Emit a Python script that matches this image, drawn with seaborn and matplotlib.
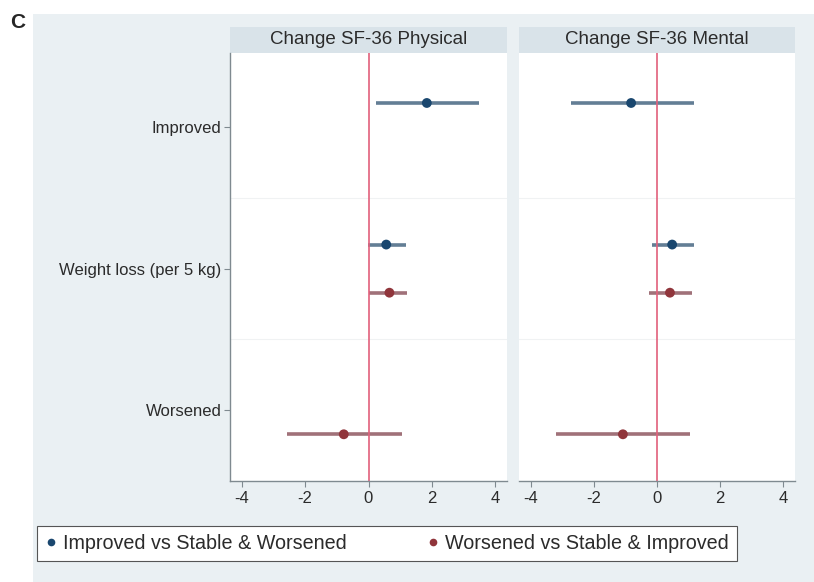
import numpy as np
import pandas as pd
import matplotlib
matplotlib.use("Agg")
import matplotlib.pyplot as plt
from matplotlib.patches import Rectangle
from matplotlib.lines import Line2D
import seaborn as sns

PANELS = ["Change SF-36 Physical", "Change SF-36 Mental"]
CATEGORIES = ["Improved", "Weight loss (per 5 kg)", "Worsened"]
SERIES = ["Improved vs Stable & Worsened", "Worsened vs Stable & Improved"]
X_TICKS = [-4, -2, 0, 2, 4]

# rows of each series (blue: Improved + weight loss, red: weight loss + Worsened)
blue_cats = ["Improved", "Weight loss (per 5 kg)"]
red_cats = ["Weight loss (per 5 kg)", "Worsened"]

phys_blue_est = [1.84, 0.56]
phys_blue_lo = [0.24, -0.02]
phys_blue_hi = [3.48, 1.18]
phys_red_est = [0.66, -0.78]
phys_red_lo = [0.00, -2.56]
phys_red_hi = [1.22, 1.07]

ment_blue_est = [-0.82, 0.48]
ment_blue_lo = [-2.73, -0.15]
ment_blue_hi = [1.16, 1.18]
ment_red_est = [0.41, -1.08]
ment_red_lo = [-0.25, -3.20]
ment_red_hi = [1.12, 1.05]

COLORS = {SERIES[0]: "#1a476f", SERIES[1]: "#90353b"}
CI_COLORS = {SERIES[0]: "#52708a", SERIES[1]: "#96626a"}
OFFSET = {SERIES[0]: -0.17, SERIES[1]: 0.17}

W, H = 814, 582


def build_frame():
    rows = []
    blocks = [
        (PANELS[0], SERIES[0], blue_cats, phys_blue_est, phys_blue_lo, phys_blue_hi),
        (PANELS[0], SERIES[1], red_cats, phys_red_est, phys_red_lo, phys_red_hi),
        (PANELS[1], SERIES[0], blue_cats, ment_blue_est, ment_blue_lo, ment_blue_hi),
        (PANELS[1], SERIES[1], red_cats, ment_red_est, ment_red_lo, ment_red_hi),
    ]
    for panel, series, cats, est, lo, hi in blocks:
        for c, e, l, h in zip(cats, est, lo, hi):
            rows.append({"panel": panel, "series": series, "cat": c,
                         "est": e, "lo": l, "hi": h})
    df = pd.DataFrame(rows)
    df["y"] = df["cat"].map({c: i for i, c in enumerate(CATEGORIES)}) + df["series"].map(OFFSET)
    return df


def fx(px):
    return px / W


def fy(py):
    return 1 - py / H


def main():
    sns.set_theme(style="white")
    plt.rcParams["font.family"] = ["Liberation Sans", "DejaVu Sans"]

    df = build_frame()

    fig = plt.figure(figsize=(W / 100, H / 100), dpi=100, facecolor="white")
    fig.patches.append(Rectangle((fx(33), 0), 1 - fx(33), fy(14), transform=fig.transFigure,
                                 facecolor="#eaf0f3", edgecolor="none", zorder=-10))
    fig.text(fx(10), fy(22.5), "C", fontsize=15, fontweight="bold", va="center", ha="left")

    lefts = [230, 519]
    widths = [277, 276]
    top, bottom = 53, 481
    for i, panel in enumerate(PANELS):
        ax = fig.add_axes([fx(lefts[i]), fy(bottom), widths[i] / W, (bottom - top) / H])
        ax.set_facecolor("white")
        sub = df[df["panel"] == panel]

        for _, r in sub.iterrows():
            ax.hlines(r["y"], r["lo"], r["hi"], color=CI_COLORS[r["series"]],
                      alpha=0.9, lw=2.6, zorder=2)
        ax.axvline(0, color="#e2607c", lw=1.2, zorder=2.5)
        for yy in [0.5, 1.5]:
            ax.axhline(yy, color="#f0f2f3", lw=0.8, zorder=1)
        sns.scatterplot(data=sub, x="est", y="y", hue="series", palette=COLORS,
                        s=50, edgecolor="none", legend=False, ax=ax, zorder=3)

        ax.set_xlim(-4.37, 4.37)
        ax.set_ylim(2.5, -0.523)
        ax.set_xticks(X_TICKS)
        ax.set_xticklabels([str(t) for t in X_TICKS])
        ax.set_xlabel("")
        ax.set_ylabel("")
        for s in ["top", "right"]:
            ax.spines[s].set_visible(False)
        ax.spines["bottom"].set_color("#7f8a90")
        ax.spines["bottom"].set_linewidth(1.0)
        ax.tick_params(axis="x", length=4, width=0.8, color="#7f8a90", pad=3,
                       labelsize=12, labelcolor="#2b2b2b", bottom=True)
        if i == 0:
            ax.spines["left"].set_color("#7f8a90")
            ax.spines["left"].set_linewidth(1.0)
            ax.set_yticks(range(len(CATEGORIES)))
            ax.set_yticklabels(CATEGORIES)
            ax.tick_params(axis="y", length=4, width=0.8, color="#7f8a90", pad=2,
                           labelsize=12, labelcolor="#2b2b2b", left=True)
        else:
            ax.spines["left"].set_visible(False)
            ax.set_yticks([])

        strip_h = (top - 27) / (bottom - top)
        ax.add_patch(Rectangle((0, 1), 1, strip_h, transform=ax.transAxes,
                               facecolor="#d9e3e9", edgecolor="none", clip_on=False))
        ax.text(0.5, 1 + strip_h / 2, panel, transform=ax.transAxes, ha="center",
                va="center", fontsize=13.5, color="#2b2b2b")

    handles = [Line2D([0], [0], marker="o", ls="none", markersize=5.5,
                      markerfacecolor=COLORS[s], markeredgecolor="none") for s in SERIES]
    leg = fig.legend(handles, SERIES, loc="upper left", bbox_to_anchor=(fx(37), fy(526)),
                     ncol=2, fontsize=14.2, frameon=True, fancybox=False,
                     handlelength=0.6, handletextpad=0.3, columnspacing=4.1,
                     borderpad=0.4, borderaxespad=0)
    frame = leg.get_frame()
    frame.set_facecolor("white")
    frame.set_edgecolor("#555555")
    frame.set_linewidth(0.8)
    frame.set_alpha(1)
    for t in leg.get_texts():
        t.set_color("#2b2b2b")

    fig.savefig("out.png", dpi=100)
    plt.close(fig)


if __name__ == "__main__":
    main()
